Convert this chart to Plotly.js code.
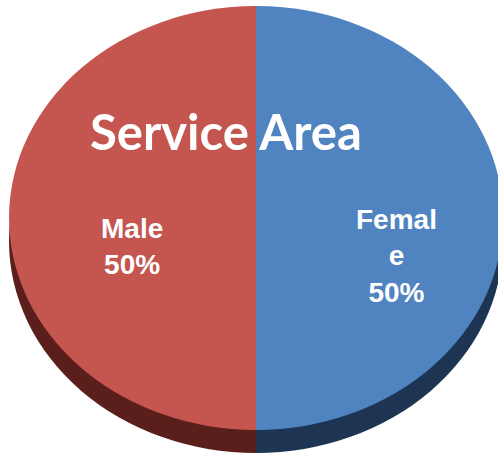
<!DOCTYPE html>
<html>
<head>
<meta charset="utf-8">
<script src="https://cdn.plot.ly/plotly-3.0.1.min.js"></script>
<style>html,body{margin:0;padding:0;background:#fff;overflow:hidden}#chart{width:498px;height:456px}</style>
</head>
<body>
<div id="chart"></div>
<script>
// ---- data ----
var categories = ['Male', 'Female'];
var values = [50, 50];
var faceColors = ['#c4554f', '#5084c1'];
var wallColors = ['#5a1f1b', '#1d3552'];
var chartTitle = 'Service Area';

// wrap label like the original (5 chars per line)
function wrap(s, n) {
  var out = [];
  for (var i = 0; i < s.length; i += n) out.push(s.slice(i, i + n));
  return out.join('<br>');
}
var total = values.reduce(function (a, b) { return a + b; }, 0);

var W = 498, H = 456;
var cxPx = 256, cyPx = 218, r = 212, wallDepth = 23, rx = 247;

function dom(cy) {
  var yc = 1 - cy / H, hy = r / H;
  var xc = cxPx / W;
  var hx = Math.min(xc, 1 - xc);
  return { x: [xc - hx, xc + hx], y: [yc - hy, yc + hy] };
}

var wall = {
  type: 'pie', labels: categories, values: values, sort: false,
  direction: 'clockwise', rotation: 180,
  marker: { colors: wallColors, line: { width: 0 } },
  textinfo: 'none', hoverinfo: 'none', showlegend: false,
  domain: dom(cyPx + wallDepth)
};
var face = {
  type: 'pie', labels: categories, values: values, sort: false,
  direction: 'clockwise', rotation: 180,
  marker: { colors: faceColors, line: { width: 0 } },
  textinfo: 'none', hoverinfo: 'label+percent', showlegend: false,
  domain: dom(cyPx)
};

var labelPos = [[132 / W, 1 - 246 / H], [396 / W, 1 - 256 / H]];
var annotations = categories.map(function (c, i) {
  return {
    xref: 'paper', yref: 'paper', x: labelPos[i][0], y: labelPos[i][1],
    xanchor: 'center', yanchor: 'middle', showarrow: false, align: 'center',
    text: wrap(c, 5) + '<br>' + Math.round(values[i] / total * 100) + '%',
    font: { family: 'Liberation Sans, Arial, sans-serif', size: 28, color: '#ffffff', weight: 'bold' }
  };
});
annotations.push({
  xref: 'paper', yref: 'paper', x: 226 / W, y: 1 - 131 / H,
  xanchor: 'center', yanchor: 'middle', showarrow: false,
  text: chartTitle,
  font: { family: 'Lato, Carlito, Calibri, sans-serif', size: 49, color: '#ffffff', weight: 'bold' }
});

var layout = {
  width: W, height: H, margin: { l: 0, r: 0, t: 0, b: 0 },
  paper_bgcolor: '#ffffff', plot_bgcolor: '#ffffff',
  showlegend: false, annotations: annotations
};

Plotly.newPlot('chart', [wall, face], layout, { displayModeBar: false, staticPlot: true }).then(function (gd) {
  // stretch the pie layer horizontally to get the elliptical (tilted) look
  var sx = rx / r;
  var pl = gd.querySelector('.pielayer');
  if (pl) pl.setAttribute('transform', 'translate(' + cxPx + ',0) scale(' + sx + ',1) translate(' + (-cxPx) + ',0)');
});
</script>
</body>
</html>
